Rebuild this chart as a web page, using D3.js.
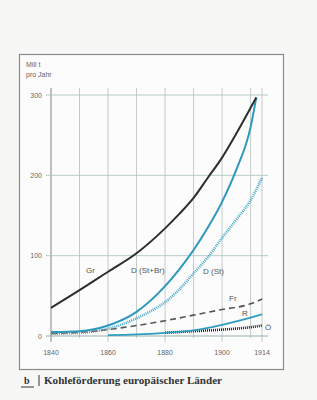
<!DOCTYPE html>
<html lang="de">
<head>
<meta charset="UTF-8">
<title>Kohleförderung europäischer Länder</title>
<style>
  body { margin: 0; background: #f7f7f6; }
  svg { display: block; }
</style>
</head>
<body>
<script src="https://d3js.org/d3.v7.min.js"></script>
<script>
    // values (Mill t pro Jahr)
    var years = [1840, 1850, 1860, 1870, 1880, 1885, 1890, 1895, 1900, 1905, 1910, 1912];
    var gr = [35, 57, 80, 103, 134, 152, 172, 197, 222, 252, 284, 297];
    var dStBr = [5, 6, 13, 30, 62, 83, 107, 135, 167, 207, 260, 297];
    var stYears = [1840, 1850, 1860, 1870, 1875, 1880, 1885, 1890, 1895, 1900, 1905, 1910, 1914];
    var dSt = [3, 4, 9, 22, 31, 42, 58, 78, 98, 122, 145, 169, 197];
    var frYears = [1840, 1850, 1860, 1870, 1880, 1890, 1900, 1910, 1914];
    var fr = [3, 4.5, 8, 13, 19, 26, 33, 40, 46];
    var rYears = [1860, 1870, 1880, 1890, 1900, 1910, 1914];
    var ru = [1, 2, 4, 7, 14, 23, 27];
    var oYears = [1880, 1890, 1900, 1910, 1914];
    var oe = [4, 6, 8, 11, 13];

    var xTicks = [1840, 1860, 1880, 1900, 1914];
    var xGrid = [1840, 1850, 1860, 1870, 1880, 1890, 1900, 1910, 1914];
    var yTicks = [0, 100, 200, 300];

    var svg = d3.select("body").append("svg")
        .attr("width", 317)
        .attr("height", 400);

    // frame round the figure
    svg.append("rect")
        .attr("x", 19.5).attr("y", 54.5)
        .attr("width", 264).attr("height", 315)
        .attr("fill", "#fcfcfc")
        .attr("stroke", "#8a8a8a")
        .attr("stroke-width", 1.2);

    var x = d3.scaleLinear().domain([1840, 1914]).range([51, 262]);
    var y = d3.scaleLinear().domain([0, 300]).range([336, 95]);

    // vertical grid
    svg.append("g").selectAll("line")
        .data(xGrid)
        .enter().append("line")
        .attr("x1", d => x(d)).attr("x2", d => x(d))
        .attr("y1", 88)
        .attr("y2", d => xTicks.indexOf(d) >= 0 ? 342 : 338)
        .attr("stroke", d => d === 1850 ? "#9ed3cb" : (d === 1840 ? "#8c8c8c" : "#bcc7c5"))
        .attr("stroke-width", d => d === 1840 ? 1.1 : 0.9);

    // horizontal grid
    svg.append("g").selectAll("line")
        .data(yTicks)
        .enter().append("line")
        .attr("x1", 46).attr("x2", 268)
        .attr("y1", d => y(d)).attr("y2", d => y(d))
        .attr("stroke", d => d === 0 ? "#8fa8a4" : "#afc8c3")
        .attr("stroke-width", 0.9);

    // axis labels
    svg.append("g").selectAll("text")
        .data(yTicks)
        .enter().append("text")
        .attr("x", 42).attr("y", d => y(d) + 2.5)
        .attr("text-anchor", "end")
        .attr("font-family", "Liberation Sans, Arial, sans-serif")
        .attr("font-size", 7)
        .attr("fill", "#666")
        .text(d => d);

    svg.append("g").selectAll("text")
        .data(xTicks)
        .enter().append("text")
        .attr("x", d => x(d)).attr("y", 355)
        .attr("text-anchor", "middle")
        .attr("font-family", "Liberation Sans, Arial, sans-serif")
        .attr("font-size", 7)
        .attr("fill", "#666")
        .text(d => d);

    svg.append("text").attr("x", 26).attr("y", 67)
        .attr("font-family", "Liberation Sans, Arial, sans-serif")
        .attr("font-size", 7).attr("fill", "#666").text("Mill t");
    svg.append("text").attr("x", 26).attr("y", 77)
        .attr("font-family", "Liberation Sans, Arial, sans-serif")
        .attr("font-size", 7).attr("fill", "#666").text("pro Jahr");

    function drawLine(xs, vs, color, width, dash) {
        var pts = xs.map((d, i) => [d, vs[i]]);
        svg.append("path")
            .datum(pts)
            .attr("fill", "none")
            .attr("stroke", color)
            .attr("stroke-width", width)
            .attr("stroke-dasharray", dash)
            .attr("d", d3.line()
                .x(d => x(d[0]))
                .y(d => y(d[1]))
                .curve(d3.curveMonotoneX));
    }

    drawLine(oYears, oe, "#222", 2.6, "1,1");
    drawLine(rYears, ru, "#2f9cc0", 1.8, null);
    drawLine(frYears, fr, "#555", 1.6, "6,4");
    drawLine(stYears, dSt, "#47a9c9", 2.6, "1,1");
    drawLine(years, dStBr, "#2c98bd", 2, null);
    drawLine(years, gr, "#2e2e2e", 2, null);

    // series labels
    var labels = [
        {t: "Gr", x: 86, y: 273},
        {t: "D (St+Br)", x: 131, y: 273},
        {t: "D (St)", x: 203, y: 274},
        {t: "Fr", x: 229, y: 301},
        {t: "R", x: 242, y: 316},
        {t: "Ö", x: 265, y: 330}
    ];
    svg.append("g").selectAll("text")
        .data(labels)
        .enter().append("text")
        .attr("x", d => d.x).attr("y", d => d.y)
        .attr("font-family", "Liberation Sans, Arial, sans-serif")
        .attr("font-size", 8)
        .attr("fill", "#555")
        .text(d => d.t);

    // caption
    svg.append("text").attr("x", 24).attr("y", 384)
        .attr("font-family", "Liberation Serif, Times New Roman, serif")
        .attr("font-size", 10).attr("font-weight", "bold").attr("fill", "#333")
        .text("b");
    svg.append("line").attr("x1", 21).attr("x2", 34).attr("y1", 387).attr("y2", 387)
        .attr("stroke", "#333").attr("stroke-width", 1);
    svg.append("line").attr("x1", 39).attr("x2", 39).attr("y1", 375).attr("y2", 386)
        .attr("stroke", "#333").attr("stroke-width", 1);
    svg.append("text").attr("x", 44).attr("y", 384)
        .attr("font-family", "Liberation Serif, Times New Roman, serif")
        .attr("font-size", 10).attr("font-weight", "bold").attr("fill", "#333")
        .attr("textLength", 178).attr("lengthAdjust", "spacingAndGlyphs")
        .text("Kohleförderung europäischer Länder");
</script>
</body>
</html>
